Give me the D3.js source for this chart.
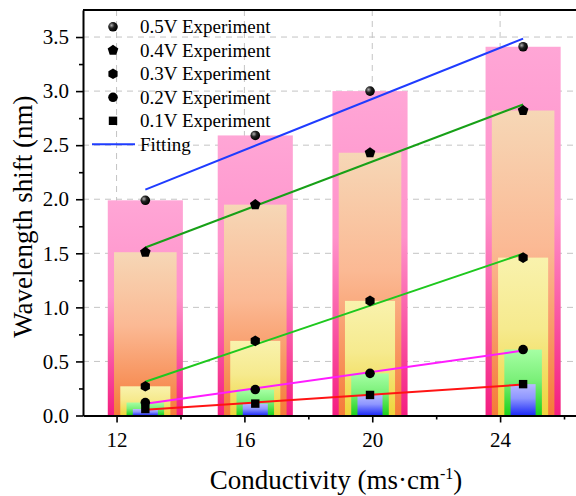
<!DOCTYPE html>
<html>
<head>
<meta charset="utf-8">
<script src="https://cdn.jsdelivr.net/npm/d3@7"></script>
<style>
  body { margin: 0; background: #fff; }
  svg { display: block; }
  svg text { font-family: Liberation Serif, Times New Roman, DejaVu Serif, serif; }
</style>
</head>
<body>
<svg id="chart" width="576" height="496"></svg>
<script>
// ---- data ----
var conductivity = [12.9, 16.34, 19.93, 24.72];
var xTickValues = [12, 16, 20, 24];
var xMinorValues = [14, 18, 22, 26];
var seriesNames = ["0.5V Experiment", "0.4V Experiment", "0.3V Experiment", "0.2V Experiment", "0.1V Experiment"];
var shift05 = [1.99, 2.59, 3.00, 3.41];
var shift04 = [1.51, 1.95, 2.43, 2.82];
var shift03 = [0.27, 0.69, 1.06, 1.46];
var shift02 = [0.12, 0.24, 0.39, 0.61];
var shift01 = [0.06, 0.11, 0.19, 0.29];
var yTickValues = [0, 0.5, 1.0, 1.5, 2.0, 2.5, 3.0, 3.5];
var yMinorValues = [0.25, 0.75, 1.25, 1.75, 2.25, 2.75, 3.25];

var allSeries = [shift05, shift04, shift03, shift02, shift01];

// ---- styles ----
var serif = "Liberation Serif, Times New Roman, DejaVu Serif, serif";
var barGrad = [
  ["#ffa6d6", "#ff92ca", "#f41d80"],
  ["#f6d7b6", "#fbb994", "#f57a38"],
  ["#f9f2ad", "#f6ea8e", "#eed43a"],
  ["#a6ffa4", "#7cf07a", "#1ad01a"],
  ["#b8baff", "#8e96ff", "#1a28f6"]
];
var fitColors = ["#1f3cff", "#17a017", "#1ec81e", "#ff1cff", "#ff1414"];
var markerShapes = ["sphere", "pentagon", "hexagon", "circle", "square"];
var barWidthUnits = 2.35;

// ---- canvas ----
var svg = d3.select("#chart"),
    margin = {top: 10, left: 83},
    width = 497,
    height = 405.5;

var defs = svg.append("defs");
barGrad.forEach(function(c, i) {
  var g = defs.append("linearGradient").attr("id", "bar" + i)
      .attr("x1", 0).attr("y1", 0).attr("x2", 0).attr("y2", 1);
  g.append("stop").attr("offset", "0%").attr("stop-color", c[0]);
  g.append("stop").attr("offset", "45%").attr("stop-color", c[1]);
  g.append("stop").attr("offset", "100%").attr("stop-color", c[2]);
});
var sph = defs.append("radialGradient").attr("id", "sphere")
    .attr("cx", "35%").attr("cy", "35%").attr("r", "65%");
sph.append("stop").attr("offset", "0%").attr("stop-color", "#b0b0b0");
sph.append("stop").attr("offset", "45%").attr("stop-color", "#222");
sph.append("stop").attr("offset", "100%").attr("stop-color", "#000");

var g = svg.append("g").attr("transform", "translate(" + margin.left + "," + margin.top + ")");

var x = d3.scaleLinear().domain([10.95, 26.5]).range([0, width]);
var y = d3.scaleLinear().domain([0, 3.75]).range([height, 0]);

// grid
g.append("g").selectAll("line").data(yTickValues.slice(1)).enter().append("line")
    .attr("x1", 0).attr("x2", width)
    .attr("y1", function(d) { return y(d); }).attr("y2", function(d) { return y(d); })
    .attr("stroke", "#c4c4c4").attr("stroke-dasharray", "6,5");
g.append("g").selectAll("line").data(xTickValues).enter().append("line")
    .attr("y1", 0).attr("y2", height)
    .attr("x1", function(d) { return x(d); }).attr("x2", function(d) { return x(d); })
    .attr("stroke", "#c4c4c4").attr("stroke-dasharray", "6,5");

// nested bars, widest (0.5V) first
allSeries.forEach(function(vals, i) {
  var w = barWidthUnits * (6 - i) / 6;
  g.append("g").selectAll("rect").data(vals).enter().append("rect")
      .attr("x", function(d, j) { return x(conductivity[j] - w / 2); })
      .attr("width", function(d, j) { return x(conductivity[j] + w / 2) - x(conductivity[j] - w / 2); })
      .attr("y", function(d) { return y(d); })
      .attr("height", function(d) { return y(0) - y(d); })
      .attr("fill", "url(#bar" + i + ")");
});

// least-squares fitting lines
function fit(xs, ys) {
  var mx = d3.mean(xs), my = d3.mean(ys);
  var sxy = d3.sum(xs, function(v, k) { return (v - mx) * (ys[k] - my); });
  var sxx = d3.sum(xs, function(v) { return (v - mx) * (v - mx); });
  var b = sxy / sxx;
  return function(v) { return my + b * (v - mx); };
}
var xEnds = d3.extent(conductivity);
allSeries.forEach(function(vals, i) {
  var f = fit(conductivity, vals);
  g.append("line")
      .attr("x1", x(xEnds[0])).attr("y1", y(f(xEnds[0])))
      .attr("x2", x(xEnds[1])).attr("y2", y(f(xEnds[1])))
      .attr("stroke", fitColors[i]).attr("stroke-width", 2);
});

// markers
function polygon(n, r, rot) {
  var pts = d3.range(n).map(function(k) {
    var a = rot + k * 2 * Math.PI / n;
    return [r * Math.sin(a), -r * Math.cos(a)];
  });
  return "M" + pts.join("L") + "Z";
}
function drawMarker(sel, shape) {
  if (shape === "sphere") sel.append("circle").attr("r", 4.8).attr("fill", "url(#sphere)");
  else if (shape === "circle") sel.append("circle").attr("r", 4.8).attr("fill", "#000");
  else if (shape === "square") sel.append("rect").attr("x", -4.2).attr("y", -4.2).attr("width", 8.4).attr("height", 8.4).attr("fill", "#000");
  else if (shape === "pentagon") sel.append("path").attr("d", polygon(5, 5.6, 0)).attr("fill", "#000");
  else if (shape === "hexagon") sel.append("path").attr("d", polygon(6, 5.3, 0)).attr("fill", "#000");
}
allSeries.forEach(function(vals, i) {
  vals.forEach(function(d, j) {
    var m = g.append("g").attr("transform", "translate(" + x(conductivity[j]) + "," + y(d) + ")");
    drawMarker(m, markerShapes[i]);
  });
});

// axes
g.append("g").attr("transform", "translate(0," + height + ")")
    .call(d3.axisBottom(x).tickValues(xTickValues).tickSize(7).tickSizeOuter(0).tickPadding(10));
g.append("g").attr("transform", "translate(0," + height + ")")
    .call(d3.axisBottom(x).tickValues(xMinorValues).tickSize(4).tickSizeOuter(0).tickFormat(""))
    .select(".domain").remove();
g.append("g")
    .call(d3.axisLeft(y).tickValues(yTickValues).tickSize(7).tickSizeOuter(0).tickPadding(7).tickFormat(d3.format(".1f")));
g.append("g")
    .call(d3.axisLeft(y).tickValues(yMinorValues).tickSize(4).tickSizeOuter(0).tickFormat(""))
    .select(".domain").remove();
g.selectAll(".domain").attr("stroke-width", 2).attr("stroke", "#000");
g.selectAll(".tick line").attr("stroke-width", 1.6).attr("stroke", "#000");
g.selectAll("g").attr("font-family", null);
g.selectAll(".tick text").attr("font-size", 21).attr("font-family", serif).attr("fill", "#000");
g.append("line").attr("x1", 0).attr("x2", width).attr("y1", 0).attr("y2", 0)
    .attr("stroke", "#000").attr("stroke-width", 2);

// axis titles
var xt = svg.append("text").attr("x", 336).attr("y", 489).attr("text-anchor", "middle")
    .attr("font-family", serif).attr("font-size", 27);
xt.append("tspan").text("Conductivity (ms\u00b7cm");
xt.append("tspan").attr("dy", -10).attr("font-size", 16).text("-1");
xt.append("tspan").attr("dy", 10).text(")");

svg.append("text").attr("transform", "translate(31.5,216.7) rotate(-90)")
    .attr("text-anchor", "middle").attr("font-family", serif).attr("font-size", 27)
    .text("Wavelength shift (nm)");

// legend
var legend = svg.append("g").attr("font-size", 19);
seriesNames.forEach(function(name, i) {
  var cy = 26.8 + i * 23.5;
  var m = legend.append("g").attr("transform", "translate(113," + cy + ")");
  drawMarker(m, markerShapes[i]);
  legend.append("text").attr("x", 140).attr("y", cy + 6.5).attr("font-family", serif).text(name);
});
var fy = 26.8 + 5 * 23.5;
legend.append("line").attr("x1", 92).attr("x2", 135).attr("y1", fy).attr("y2", fy)
    .attr("stroke", fitColors[0]).attr("stroke-width", 2);
legend.append("text").attr("x", 140).attr("y", fy + 6.5).attr("font-family", serif).text("Fitting");
</script>
</body>
</html>
